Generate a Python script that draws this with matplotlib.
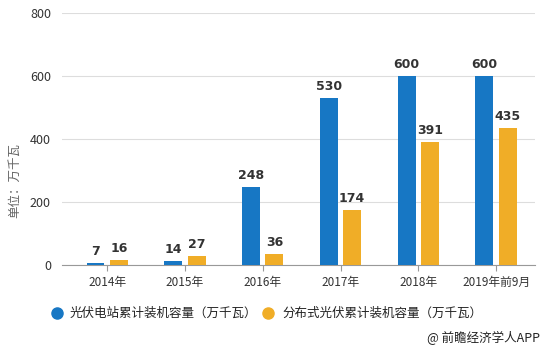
import matplotlib
matplotlib.use('Agg')
import matplotlib.pyplot as plt
import numpy as np

plt.rcParams['font.family'] = ['Noto Sans CJK SC', 'DejaVu Sans']

years = ['2014年', '2015年', '2016年', '2017年', '2018年', '2019年前9月']
station = [7, 14, 248, 530, 600, 600]
distributed = [16, 27, 36, 174, 391, 435]
series_names = ['光伏电站累计装机容量（万千瓦）', '分布式光伏累计装机容量（万千瓦）']

blue = '#1777c4'
orange = '#f0ad27'

fig = plt.figure(figsize=(5.48, 3.48), dpi=100)
ax = fig.add_axes([62 / 548, 1 - 265 / 348, 473 / 548, 252 / 348])

x = np.arange(len(years))
w = 0.23
off = 0.15
b1 = ax.bar(x - off, station, w, color=blue, zorder=3)
b2 = ax.bar(x + off, distributed, w, color=orange, zorder=3)

for bars in (b1, b2):
    for rect in bars:
        h = rect.get_height()
        ax.text(rect.get_x() + rect.get_width() / 2, h + 16, f'{h:g}',
                ha='center', va='bottom', fontsize=9, fontweight='bold',
                color='#333333', family='DejaVu Sans')

ax.set_xlim(-0.58, 5.5)
ax.set_ylim(0, 800)
ax.set_yticks([0, 200, 400, 600, 800])
ax.set_xticks(x)
ax.set_xticklabels(years)
ax.tick_params(axis='y', length=0, labelsize=9, colors='#333333', pad=8)
ax.tick_params(axis='x', length=4, color='#999999', labelsize=8.5, labelcolor='#333333', pad=4)
ax.grid(axis='y', color='#dddddd', linewidth=0.8, zorder=0)
for s in ['top', 'right', 'left']:
    ax.spines[s].set_visible(False)
ax.spines['bottom'].set_color('#999999')

fig.text(15 / 548, 1 - 180 / 348, '单位：万千瓦', rotation=90, ha='center', va='center',
         fontsize=9, color='#666666')

# legend drawn manually to keep the spacing of the two entries
for cx, tx, color, name in [(57, 70, blue, series_names[0]), (268, 282, orange, series_names[1])]:
    fig.lines.append(plt.Line2D([cx / 548], [1 - 313 / 348], marker='o', markersize=8,
                                color=color, transform=fig.transFigure))
    fig.text(tx / 548, 1 - 313 / 348, name, ha='left', va='center', fontsize=9, color='#222222')

fig.text(540 / 548, 1 - 338 / 348, '@ 前瞻经济学人APP', ha='right', va='center',
         fontsize=9, color='#222222')

fig.savefig('out.png', dpi=100)
